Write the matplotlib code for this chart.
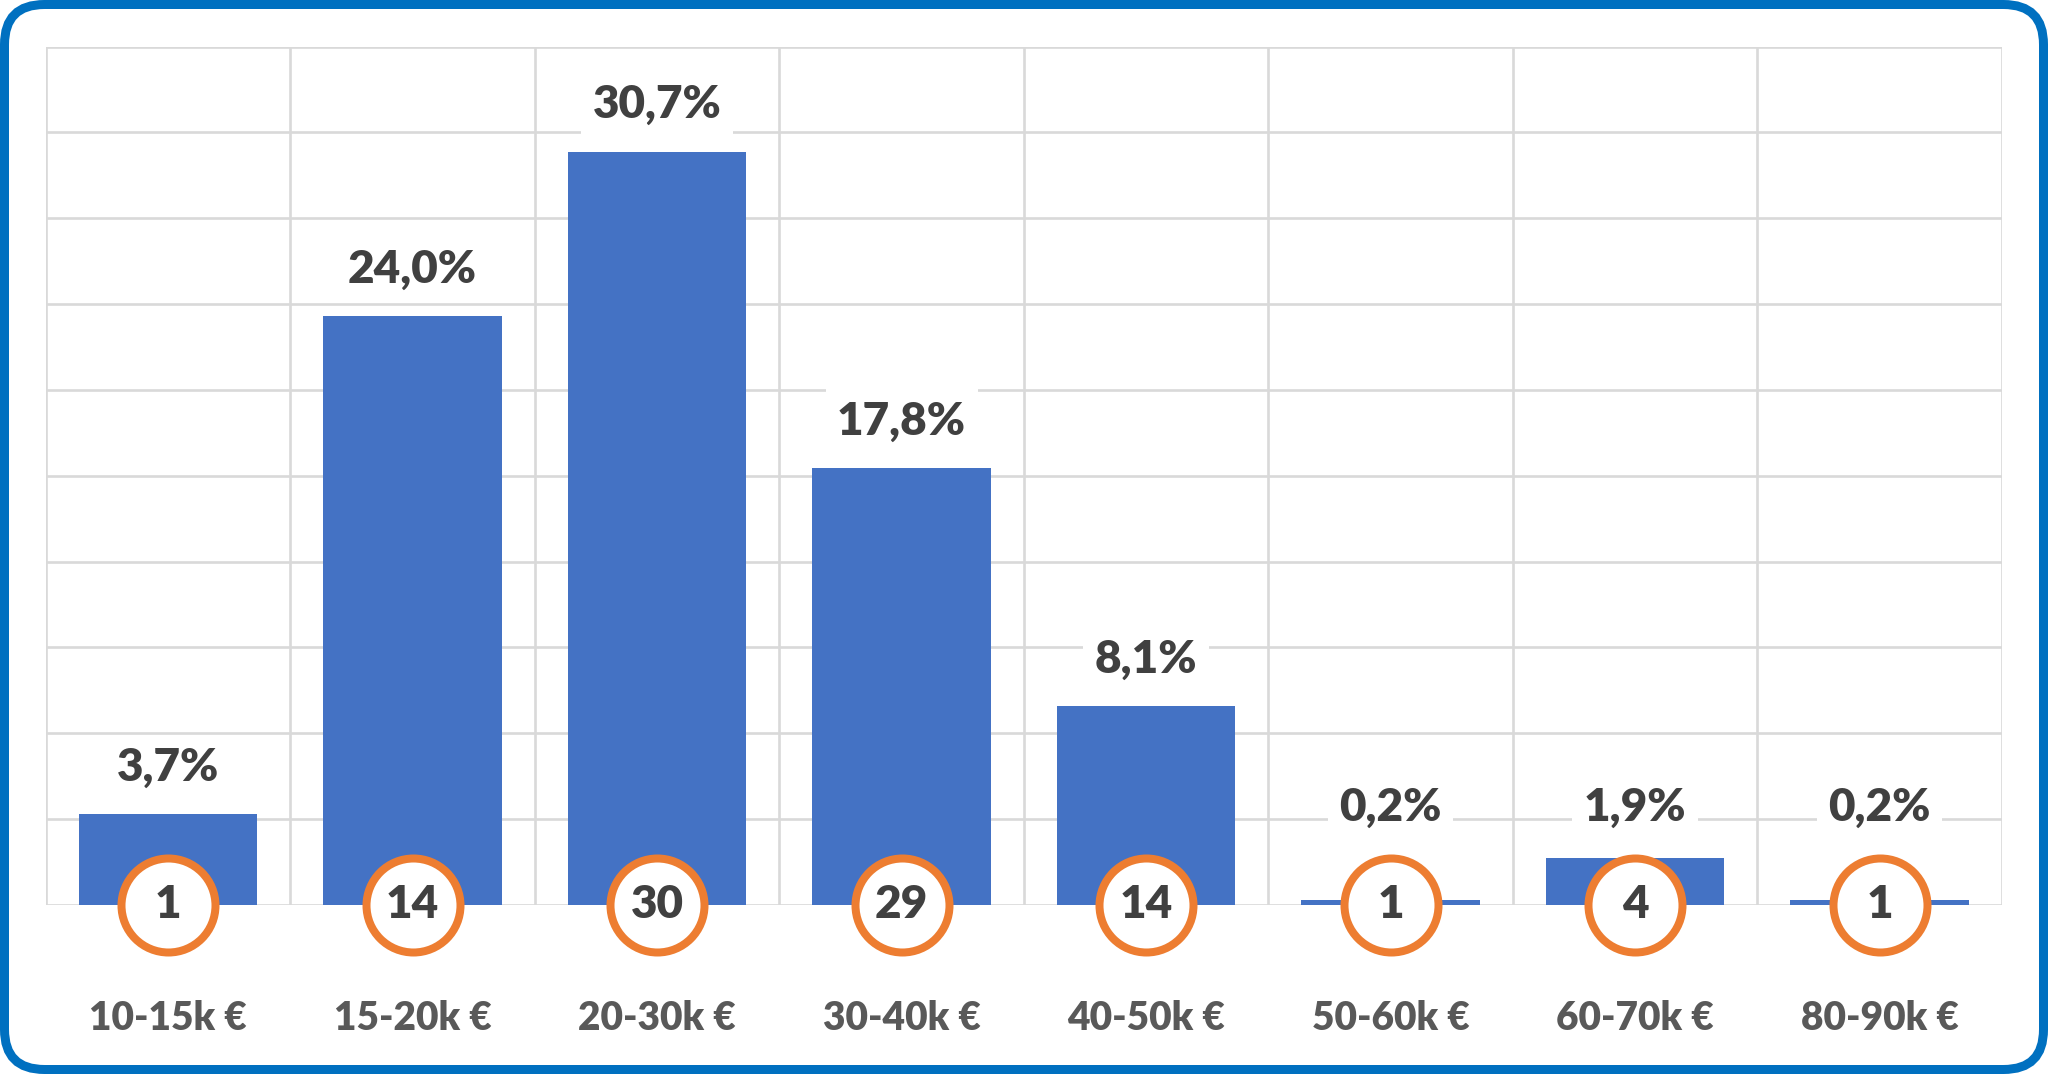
import numpy as np
import matplotlib
matplotlib.use('Agg')
import matplotlib.pyplot as plt
from matplotlib.patches import FancyBboxPatch
from matplotlib.transforms import IdentityTransform, blended_transform_factory
from matplotlib import font_manager

# data
categories = ['10-15k €', '15-20k €', '20-30k €', '30-40k €',
              '40-50k €', '50-60k €', '60-70k €', '80-90k €']
share = [3.7, 24.0, 30.7, 17.8, 8.1, 0.2, 1.9, 0.2]
count = [1, 14, 30, 29, 14, 1, 4, 1]

bar_col = '#4472C4'
ring_col = '#ED7D31'
grid_col = '#D9D9D9'
frame_col = '#0070C0'

print(sorted(set((f.name, f.weight) for f in font_manager.fontManager.ttflist if 'Lato' in f.name or 'Sans Narrow' in f.name)))

plt.rcParams['font.family'] = ['Lato', 'DejaVu Sans']

W, H, DPI = 2048, 1074, 100
fig = plt.figure(figsize=(W/DPI, H/DPI), dpi=DPI)
ax = fig.add_axes([45.7/W, 1-905/H, (2002-45.7)/W, (905-46.5)/H])

x = np.arange(len(categories))
ax.bar(x, share, width=0.73, color=bar_col, zorder=2)

ax.set_xlim(-0.5, len(categories)-0.5)
ax.set_ylim(0, 35)
for yv in np.arange(0, 35.01, 3.5):
    ax.axhline(yv, color=grid_col, lw=1.9, zorder=0)
for xv in np.arange(-0.5, len(categories), 1.0):
    ax.axvline(xv, color=grid_col, lw=1.9, zorder=0)
for s in ax.spines.values():
    s.set_visible(False)
ax.set_xticks([])
ax.set_yticks([])

# px per data unit
ppu = (905-46.5)/35.0
pt = 72.0/DPI
for i, v in enumerate(share):
    above = max(v*ppu, 50) + 47
    lab = ('%.1f%%' % v).replace('.', ',')
    ax.annotate(lab, xy=(i, 0), xytext=(0, above*pt),
                textcoords='offset points', ha='center', va='center',
                fontsize=33, fontweight='heavy', color='#404040', zorder=5,
                bbox=dict(boxstyle='square,pad=0.25', fc='white', ec='none'))

ax.scatter(x, np.zeros(len(x)), s=(94*pt)**2, facecolor='white',
           edgecolor=ring_col, linewidth=8*pt, zorder=6, clip_on=False)
for i, c in enumerate(count):
    ax.text(i, 0, str(c), ha='center', va='center', fontsize=33,
            fontweight='heavy', color='#404040', zorder=7)

tr = blended_transform_factory(ax.transData, ax.transAxes)
for i, lab in enumerate(categories):
    ax.text(i, -113/(905-46.5), lab, transform=tr, ha='center', va='center',
            fontsize=28, fontweight='heavy', color='#595959')

frame = FancyBboxPatch((4.5, 4.5), W-9, H-9,
                       boxstyle='round,pad=0,rounding_size=40',
                       transform=IdentityTransform(), fc='none',
                       ec=frame_col, lw=9*pt, zorder=10)
fig.patches.append(frame)

fig.savefig('out.png', dpi=DPI)
